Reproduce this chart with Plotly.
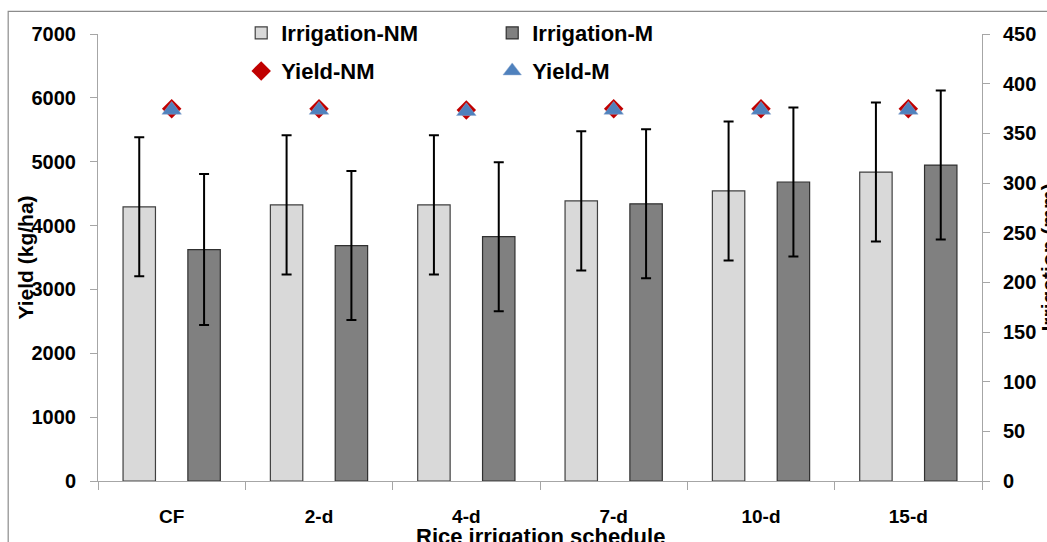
import plotly.graph_objects as go

# Irrigation schedules (x categories)
schedules = ["CF", "2-d", "4-d", "7-d", "10-d", "15-d"]

# Irrigation water applied (mm), right axis
irrigation_nm = [276, 278, 278, 282, 292, 311]
irrigation_nm_err = [70, 70, 70, 70, 70, 70]
irrigation_m = [233, 237, 246, 279, 301, 318]
irrigation_m_err = [76, 75, 75, 75, 75, 75]

# Grain yield (kg/ha), left axis
yield_nm = [5830, 5830, 5810, 5830, 5830, 5830]
yield_m = [5810, 5810, 5790, 5810, 5810, 5810]

FONT = "Liberation Sans, Arial, sans-serif"
AXIS_GREY = "#a6a6a6"

fig = go.Figure()

fig.add_trace(go.Bar(
    x=schedules, y=irrigation_nm, name="Irrigation-NM", yaxis="y2",
    width=0.22, offset=-0.33,
    marker=dict(color="#d9d9d9", line=dict(color="#404040", width=1.2)),
    error_y=dict(type="data", array=irrigation_nm_err, color="black",
                 thickness=2, width=5),
    legend="legend",
))
fig.add_trace(go.Bar(
    x=schedules, y=irrigation_m, name="Irrigation-M", yaxis="y2",
    width=0.22, offset=0.11,
    marker=dict(color="#808080", line=dict(color="#303030", width=1.2)),
    error_y=dict(type="data", array=irrigation_m_err, color="black",
                 thickness=2, width=5),
    legend="legend",
))
fig.add_trace(go.Scatter(
    x=schedules, y=yield_nm, name="Yield-NM", mode="markers",
    marker=dict(symbol="diamond", size=15, color="#c00000"),
    legend="legend2",
))
fig.add_trace(go.Scatter(
    x=schedules, y=yield_m, name="Yield-M", mode="markers",
    marker=dict(symbol="triangle-up", size=17, color="#4f81bd",
                line=dict(color="#8faad0", width=0.5)),
    legend="legend2",
))

tick_font = dict(family=FONT, size=20, color="black", weight="bold")
legend_font = dict(family=FONT, size=22, color="black", weight="bold")

fig.update_layout(
    width=1047, height=542,
    margin=dict(l=98, r=65, t=32, b=61),
    paper_bgcolor="white", plot_bgcolor="white",
    barmode="group",
    xaxis=dict(
        type="category", showline=True, linecolor=AXIS_GREY, linewidth=1,
        ticks="outside", tickson="boundaries", ticklen=8, tickcolor=AXIS_GREY,
        tickfont=dict(family=FONT, size=19, color="black", weight="bold"),
        ticklabelstandoff=18, showgrid=False, zeroline=False,
    ),
    yaxis=dict(
        range=[0, 7000], dtick=1000, showline=True, linecolor=AXIS_GREY,
        ticks="outside", ticklen=7, tickcolor=AXIS_GREY, tickfont=tick_font,
        ticklabelstandoff=10, showgrid=False, zeroline=False,
    ),
    yaxis2=dict(
        range=[0, 450], dtick=50, overlaying="y", side="right", showline=True,
        linecolor=AXIS_GREY, ticks="outside", ticklen=7, tickcolor=AXIS_GREY,
        tickfont=tick_font, ticklabelstandoff=9, showgrid=False,
        zeroline=False,
    ),
    legend=dict(
        orientation="h", x=0.162, xanchor="left", y=1.002, yanchor="middle",
        font=legend_font, entrywidth=206, entrywidthmode="pixels",
        bgcolor="rgba(0,0,0,0)", traceorder="normal",
    ),
    legend2=dict(
        orientation="h", x=0.162, xanchor="left", y=0.917, yanchor="middle",
        font=legend_font, entrywidth=206, entrywidthmode="pixels",
        bgcolor="rgba(0,0,0,0)", traceorder="normal",
    ),
    showlegend=True,
    annotations=[
        dict(text="Yield (kg/ha)", textangle=-90, xref="paper", yref="paper",
             x=0, y=0.5, xanchor="center", yanchor="middle", xshift=-73,
             showarrow=False,
             font=dict(family=FONT, size=21, color="black", weight="bold")),
        dict(text="Irrigation (mm)", textangle=-90, xref="paper", yref="paper",
             x=1, y=0.5, xanchor="center", yanchor="middle", xshift=66,
             showarrow=False,
             font=dict(family=FONT, size=21, color="black", weight="bold")),
        dict(text="Rice irrigation schedule", xref="paper", yref="paper",
             x=0.5, y=0, xanchor="center", yanchor="middle", yshift=-55,
             showarrow=False,
             font=dict(family=FONT, size=22, color="black", weight="bold")),
    ],
    shapes=[
        # outer chart frame
        dict(type="rect", xref="paper", yref="paper",
             x0=-0.1016, x1=1.2, y0=-0.3, y1=1.0505,
             line=dict(color="#8c8c8c", width=1.2), layer="below"),
    ],
)

fig.write_html("out.html")
